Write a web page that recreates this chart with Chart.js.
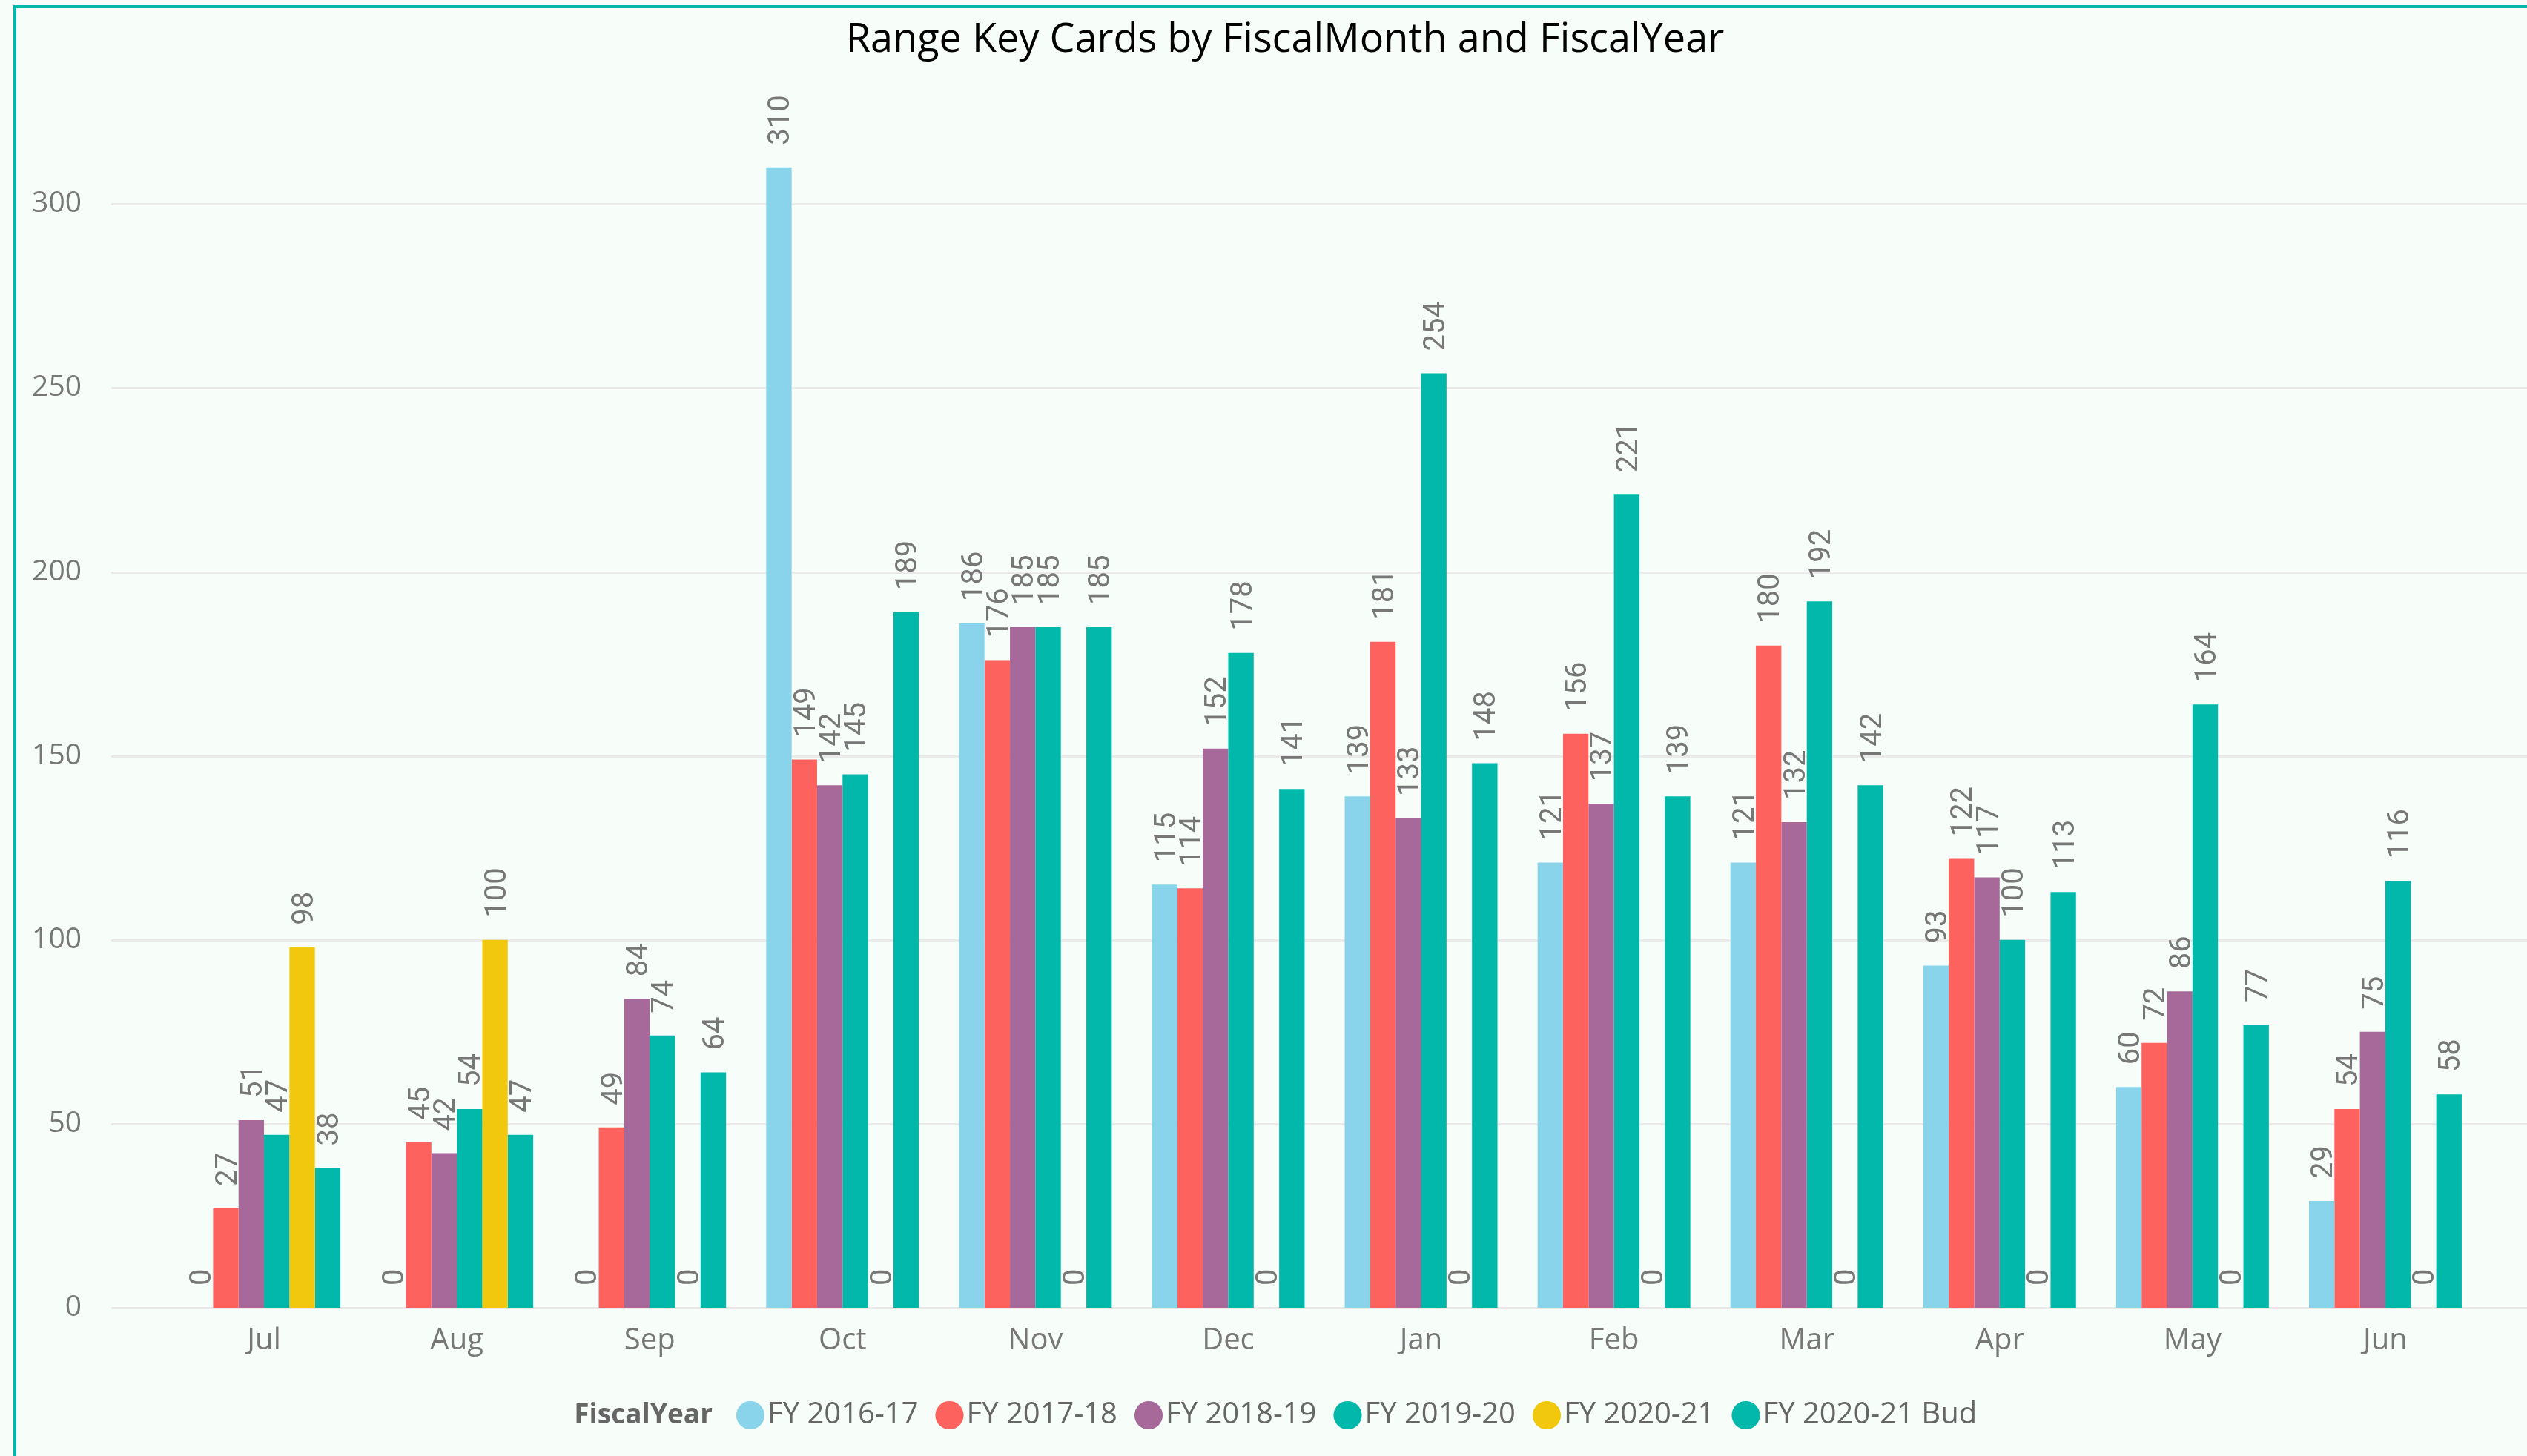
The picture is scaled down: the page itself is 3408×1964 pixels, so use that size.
<!DOCTYPE html>
<html>
<head>
<meta charset="utf-8">
<title>Range Key Cards by FiscalMonth and FiscalYear</title>
<script src="https://cdn.jsdelivr.net/npm/chart.js@4.4.1/dist/chart.umd.min.js"></script>
<style>
  html, body { margin: 0; padding: 0; background: #F7FEFA; }
  #wrap { position: relative; width: 3408px; height: 1964px; overflow: hidden; }
  #frame {
    position: absolute; left: 18px; top: 7px; right: 0; bottom: 0;
    border-left: 4px solid #01B8AA; border-top: 4px solid #01B8AA;
    pointer-events: none;
  }
</style>
</head>
<body>
<div id="wrap">
  <canvas id="chart" width="3408" height="1964"></canvas>
  <div id="frame"></div>
</div>
<script>
// data
const months = ['Jul', 'Aug', 'Sep', 'Oct', 'Nov', 'Dec', 'Jan', 'Feb', 'Mar', 'Apr', 'May', 'Jun'];
const fy1617 = [0, 0, 0, 310, 186, 115, 139, 121, 121, 93, 60, 29];
const fy1718 = [27, 45, 49, 149, 176, 114, 181, 156, 180, 122, 72, 54];
const fy1819 = [51, 42, 84, 142, 185, 152, 133, 137, 132, 117, 86, 75];
const fy1920 = [47, 54, 74, 145, 185, 178, 254, 221, 192, 100, 164, 116];
const fy2021 = [98, 100, 0, 0, 0, 0, 0, 0, 0, 0, 0, 0];
const fy2021Bud = [38, 47, 64, 189, 185, 141, 148, 139, 142, 113, 77, 58];
const seriesNames = ['FY 2016-17', 'FY 2017-18', 'FY 2018-19', 'FY 2019-20', 'FY 2020-21', 'FY 2020-21 Bud'];
const seriesColors = ['#8AD4EB', '#FD625E', '#A66999', '#01B8AA', '#F2C80F', '#01B8AA'];
const yTicks = [0, 50, 100, 150, 200, 250, 300];

const seriesData = [fy1617, fy1718, fy1819, fy1920, fy2021, fy2021Bud];

// horizontal gridlines run wider than the bar area, as in the original
const gridPlugin = {
  id: 'wideGrid',
  beforeDatasetsDraw(chart) {
    const ctx = chart.ctx, y = chart.scales.y;
    ctx.save();
    ctx.fillStyle = '#EAEAEA';
    yTicks.forEach(v => {
      const py = Math.round(y.getPixelForValue(v));
      ctx.fillRect(150, py - 1, chart.width - 150, 3);
    });
    ctx.restore();
  }
};

// rotated value labels above every bar (zeros too)
const labelPlugin = {
  id: 'barLabels',
  afterDatasetsDraw(chart) {
    const ctx = chart.ctx;
    ctx.save();
    ctx.font = '40px Roboto';
    ctx.fillStyle = '#777777';
    ctx.textAlign = 'left';
    ctx.textBaseline = 'alphabetic';
    chart.data.datasets.forEach((ds, i) => {
      chart.getDatasetMeta(i).data.forEach((bar, j) => {
        ctx.save();
        ctx.translate(bar.x, bar.y - 30);
        ctx.rotate(-Math.PI / 2);
        ctx.fillText(String(ds.data[j]), 0, 14);
        ctx.restore();
      });
    });
    ctx.restore();
  }
};

// nudge title / legend to where they sit in the original, add the legend caption
const TITLE_CENTER = 1733;
const LEGEND_START = 1009;
const legendPlugin = {
  id: 'legendCaption',
  afterLayout(chart) {
    const lg = chart.legend;
    const pad = lg.options.labels.padding;
    const cur = (lg.left + pad + lg.right - lg.lineWidths[0]) / 2;
    const d = LEGEND_START - cur;
    lg.left += d;
    lg.right += d;
  },
  beforeDraw(chart) {
    const t = chart.titleBlock;
    if (t) {
      const w = t.right - t.left;
      t.left = TITLE_CENTER - w / 2;
      t.right = TITLE_CENTER + w / 2;
    }
  },
  afterDraw(chart) {
    const hb = chart.legend.legendHitBoxes[0];
    if (!hb) return;
    const ctx = chart.ctx;
    ctx.save();
    ctx.font = 'bold 37px "Open Sans"';
    ctx.fillStyle = '#666666';
    ctx.textAlign = 'right';
    ctx.textBaseline = 'middle';
    ctx.fillText('FiscalYear', hb.left - 48, hb.top + hb.height / 2);
    ctx.restore();
  }
};

const ctx = document.getElementById('chart').getContext('2d');
const chart = new Chart(ctx, {
  type: 'bar',
  data: {
    labels: months,
    datasets: seriesNames.map((name, i) => ({
      label: name,
      data: seriesData[i],
      backgroundColor: seriesColors[i],
      borderWidth: 0,
      categoryPercentage: 0.792,
      barPercentage: 1.0
    }))
  },
  options: {
    responsive: false,
    animation: false,
    layout: { padding: { left: 0, right: 61, top: 0, bottom: 25 } },
    scales: {
      x: {
        grid: { display: false, drawTicks: false },
        border: { display: false },
        ticks: {
          color: '#777777',
          font: { family: '"Open Sans"', size: 40 },
          padding: 21,
          autoSkip: false,
          maxRotation: 0
        },
        afterFit: s => { s.height = 1964 - 25 - s.chart.legend.height - 1764; }
      },
      y: {
        min: 0,
        max: 320,
        grid: { display: false, drawTicks: false },
        border: { display: false },
        ticks: {
          stepSize: 50,
          includeBounds: false,
          color: '#777777',
          font: { family: '"Open Sans"', size: 39 },
          padding: 116,
          callback: v => (v % 50 === 0 ? v : '')
        },
        afterFit: s => { s.width = 226; }
      }
    },
    plugins: {
      title: {
        display: true,
        text: 'Range Key Cards by FiscalMonth and FiscalYear',
        color: '#000000',
        font: { family: '"Open Sans"', size: 54, weight: 'normal', lineHeight: 1.2 },
        padding: { top: 22, bottom: 89.2 }
      },
      legend: {
        position: 'bottom',
        labels: {
          usePointStyle: true,
          pointStyle: 'circle',
          boxWidth: 6,
          boxHeight: 27,
          padding: 39,
          color: '#666666',
          font: { family: '"Open Sans"', size: 40 }
        }
      },
      tooltip: { enabled: false }
    }
  },
  plugins: [gridPlugin, labelPlugin, legendPlugin]
});
</script>
</body>
</html>
